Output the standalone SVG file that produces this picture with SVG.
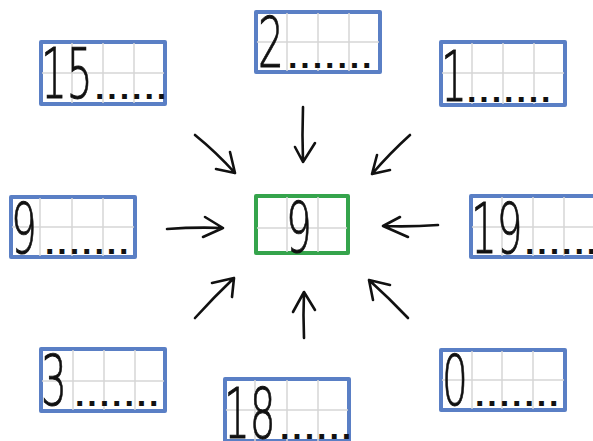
<svg xmlns="http://www.w3.org/2000/svg" width="593" height="441" viewBox="0 0 593 441">
<style>
.box{fill:#fff;stroke:#5a7fc5;stroke-width:4;stroke-linejoin:round}
.gbox{fill:#fff;stroke:#35a44c;stroke-width:4;stroke-linejoin:round}
.grid{stroke:#d6d6d6;stroke-width:1.5;fill:none}
.num{font-family:"DejaVu Sans","Liberation Sans",sans-serif;font-weight:200;font-size:70px;fill:#111;stroke:#111;stroke-width:0.9}
.dots{font-family:"Liberation Sans",Arial,sans-serif;font-weight:bold;font-size:34px;letter-spacing:2.9px;fill:#111}
.arr{fill:none;stroke:#111;stroke-width:2.6;stroke-linecap:round;stroke-linejoin:round}
</style>
<rect width="593" height="441" fill="#fff"/>
<g id="n15">
<rect class="box" x="41" y="42" width="124" height="62"/>
<path class="grid" d="M72 43V103M103 43V103M134 43V103M42 73H164"/>
<text class="num" transform="translate(41 98) scale(0.58 1)">15</text>
<text class="dots" x="95" y="99">......</text>
</g>
<g id="n2">
<rect class="box" x="256" y="12" width="124" height="60"/>
<path class="grid" d="M287 13V71M318 13V71M349 13V71M257 42H379"/>
<text class="num" transform="translate(258 67) scale(0.58 1)">2</text>
<text class="dots" x="288" y="68">.......</text>
</g>
<g id="n1">
<rect class="box" x="441" y="42" width="124" height="63"/>
<path class="grid" d="M472 43V104M503 43V104M534 43V104M442 73H564"/>
<text class="num" transform="translate(441 101) scale(0.58 1)">1</text>
<text class="dots" x="467" y="102">.......</text>
</g>
<g id="n9">
<rect class="box" x="11" y="197" width="124" height="60"/>
<path class="grid" d="M40 198V256M72 198V256M103 198V256M12 227H134"/>
<text class="num" transform="translate(11 253) scale(0.58 1)">9</text>
<text class="dots" x="45" y="254">.......</text>
</g>
<g id="center">
<rect class="gbox" x="256" y="196" width="92" height="57"/>
<path class="grid" d="M287 197V252M318 197V252M257 228H347"/>
<text class="num" transform="translate(286 252) scale(0.58 1)">9</text>
</g>
<g id="n19">
<rect class="box" x="471" y="196" width="124" height="61"/>
<path class="grid" d="M502 197V256M533 197V256M564 197V256M472 227H594"/>
<text class="num" transform="translate(471 253) scale(0.58 1)">19</text>
<text class="dots" x="525" y="254">......</text>
</g>
<g id="n3">
<rect class="box" x="41" y="349" width="124" height="62"/>
<path class="grid" d="M73 350V410M104 350V410M135 350V410M42 381H164"/>
<text class="num" transform="translate(41 405) scale(0.58 1)">3</text>
<text class="dots" x="75" y="406">.......</text>
</g>
<g id="n18">
<rect class="box" x="225" y="379" width="124" height="62"/>
<path class="grid" d="M255 380V441M287 380V441M318 380V441M226 410H348"/>
<text class="num" transform="translate(224 438) scale(0.58 1)">18</text>
<text class="dots" x="280" y="439">......</text>
</g>
<g id="n0">
<rect class="box" x="441" y="350" width="124" height="60"/>
<path class="grid" d="M472 351V409M502 351V409M533 351V409M442 380H564"/>
<text class="num" transform="translate(442 405) scale(0.58 1)">0</text>
<text class="dots" x="475" y="406">.......</text>
</g>
<g id="connectors">
<path class="arr" d="M303 107Q302 135 303 162M295 147L303 162L315 143"/>
<path class="arr" d="M195 135Q216 152 235 173M216 169L235 173L230 152"/>
<path class="arr" d="M410 135Q390 153 372 174M390 170L372 174L377 155"/>
<path class="arr" d="M167 229Q195 227 223 228M205 217L223 228L203 237"/>
<path class="arr" d="M438 225Q410 227 383 226M400 217L383 226L408 237"/>
<path class="arr" d="M195 318Q214 297 234 278M212 283L234 278L232 297"/>
<path class="arr" d="M304 338Q303 315 304 292M293 312L304 292L315 310"/>
<path class="arr" d="M408 318Q389 298 369 280M373 300L369 280L390 285"/>
</g>
</svg>
